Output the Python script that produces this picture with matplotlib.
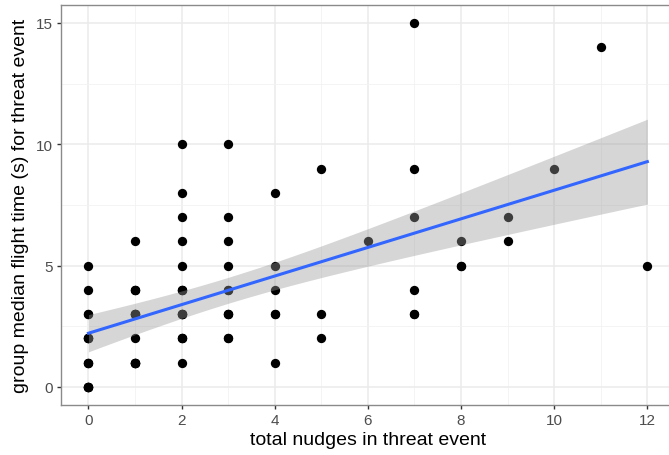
import matplotlib
matplotlib.use('Agg')
import matplotlib.pyplot as plt
import numpy as np

# total nudges per threat event (x) and group median flight time (y), one entry per event
nudges = [0] * 16 + [1] * 14 + [2] * 16 + [3] * 11 + [4] * 6 + [5] * 3 + [6] \
    + [7] * 6 + [8] * 3 + [9] * 2 + [10] + [11] + [12]
flight_time = [0, 0, 0, 0, 0, 1, 1, 1, 2, 2, 2, 2, 3, 3, 4, 5,
               1, 1, 1, 1, 1, 2, 3, 3, 3, 3, 4, 4, 4, 6,
               1, 2, 2, 2, 3, 3, 3, 3, 4, 4, 4, 5, 6, 7, 8, 10,
               2, 2, 3, 3, 3, 4, 4, 5, 6, 7, 10,
               1, 3, 3, 4, 5, 8,
               2, 3, 9,
               6,
               3, 3, 4, 7, 9, 15,
               5, 5, 6,
               6, 7,
               9,
               14,
               5]

X_TICKS = [0, 2, 4, 6, 8, 10, 12]
Y_TICKS = [0, 5, 10, 15]

x = np.array(nudges, dtype=float)
y = np.array(flight_time, dtype=float)

# linear fit with 95% confidence band (like geom_smooth(method='lm'))
slope, intercept = np.polyfit(x, y, 1)
n = len(x)
resid = y - (slope * x + intercept)
s = np.sqrt(np.sum(resid ** 2) / (n - 2))
sxx = np.sum((x - x.mean()) ** 2)
t_val = 1.99
x_fit = np.linspace(x.min(), x.max(), 100)
y_fit = slope * x_fit + intercept
half = t_val * s * np.sqrt(1 / n + (x_fit - x.mean()) ** 2 / sxx)

plt.rcParams['font.family'] = ['Liberation Sans', 'DejaVu Sans']

fig = plt.figure(figsize=(6.69, 4.56), dpi=100)
ax = fig.add_axes([60.5 / 669, 50 / 456, 614.8 / 669, 400.2 / 456])

ax.scatter(x, y, s=45, color='black', linewidths=0, zorder=2)
ax.fill_between(x_fit, y_fit - half, y_fit + half, color='#999999', alpha=0.4, linewidth=0, zorder=3)
ax.plot(x_fit, y_fit, color='#3366FF', linewidth=2.2, zorder=4)

ax.set_xlim(-0.6, 12.6)
ax.set_ylim(-0.75, 15.75)
ax.set_xticks(X_TICKS)
ax.set_yticks(Y_TICKS)
ax.set_xticks(np.arange(1, 13, 2), minor=True)
ax.set_yticks([2.5, 7.5, 12.5], minor=True)
ax.grid(True, which='major', color='#EBEBEB', linewidth=1.1, zorder=0)
ax.grid(True, which='minor', color='#F2F2F2', linewidth=0.6, zorder=0)
ax.set_axisbelow(True)
ax.tick_params(which='minor', length=0)
ax.tick_params(which='major', length=2.75, width=1, color='#333333', labelcolor='#4D4D4D',
               labelsize=11, pad=3)
for sp in ax.spines.values():
    sp.set_color('#8a8a8a')
    sp.set_linewidth(1)

ax.set_xlabel('total nudges in threat event', fontsize=14, labelpad=3)
ax.set_ylabel('group median flight time (s) for threat event', fontsize=14, labelpad=5)

fig.savefig('out.png', dpi=100)
